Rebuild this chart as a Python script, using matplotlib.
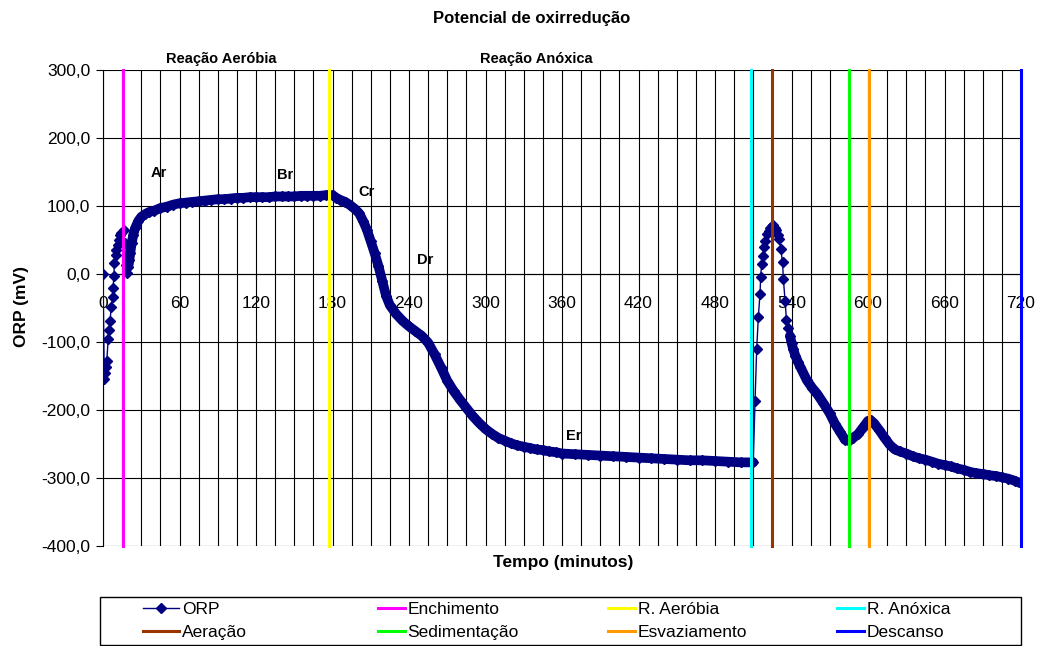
import numpy as np
import matplotlib
matplotlib.use('Agg')
import matplotlib.pyplot as plt
from matplotlib.patches import Rectangle
from matplotlib.ticker import FuncFormatter

plt.rcParams['font.family'] = ['Liberation Sans', 'DejaVu Sans']

# ORP readings: time (minutes) and potential (mV)
tempo = [0, 1, 1.5, 2.5, 3, 4, 5, 5.5, 6.5, 7.5, 8, 8.5, 9, 10, 10.5, 11.5, 12.5, 13.5, 14.5, 16.5,
         17, 17.8, 18.5, 19.9, 20.7, 21.4, 22.5, 23.8, 25.1, 27.7, 30, 33, 36, 40, 45, 50, 55, 60,
         65, 70, 75, 80, 85, 90, 95, 100, 105, 110, 115, 120, 125, 130, 135, 140, 145, 150, 155,
         160, 165, 170, 175, 180, 183, 186, 190, 194, 198, 201, 204, 207, 210, 213, 216, 219, 222,
         225, 230, 235, 240, 245, 250, 255, 260, 265, 270, 275, 280, 285, 290, 295, 300, 305, 310,
         315, 320, 325, 330, 335, 340, 345, 350, 355, 360, 370, 380, 390, 400, 410, 420, 430, 440,
         450, 460, 470, 480, 490, 500, 509, 510,
         511.4, 512.7, 514, 515.3, 515.8, 516.6, 517.4, 518.4, 519.5, 521, 522, 523, 524.5, 525.7,
         527, 528, 529.2, 530.4, 531.5, 533, 533.6, 535, 536, 537.5, 538.8, 540, 541.4, 543, 545,
         547, 552, 556, 560, 565, 570, 574, 578, 582, 585, 588, 592, 596, 600, 602, 605, 609, 613,
         617, 621, 625, 630, 635, 640, 645, 650, 655, 660, 665, 670, 675, 680, 685, 690, 695, 700,
         705, 710, 715, 720]
orp = [0, -155, -146, -137, -128, -96, -82, -69, -48, -34, -20, -3, 16, 28, 36, 43, 50, 57, 61, 64,
       45, 13, 1, 11, 21, 31, 46, 58, 67, 78, 84, 88, 91, 93, 97, 99, 102, 104,
       105, 106, 107, 108, 109, 110, 110, 111, 112, 112, 113, 113, 113, 113, 114, 114, 114, 114, 115,
       115, 115, 115, 116, 116, 112, 109, 106, 101, 95, 89, 78, 65, 48, 31, 12, -10, -32,
       -46, -59, -69, -77, -84, -91, -101, -118, -137, -157, -172, -185, -197, -209, -219, -228, -235, -241,
       -245, -249, -252, -254, -256, -258, -259, -261, -262, -264, -265, -266, -267, -268, -269, -270, -271, -272,
       -273, -274, -274, -275, -276, -277, -277, -277,
       -187, -110, -63, -29, -5, 15, 27, 40, 49, 59, 63, 67, 70, 72,
       68, 64, 58, 52, 37, 17, -7, -40, -67, -79, -91, -101, -111, -120, -129,
       -137, -156, -167, -176, -190, -205, -220, -232, -244, -245, -241, -236, -226, -216, -215, -220, -230, -241,
       -251, -258, -261, -264, -268, -271, -273, -276, -279, -281, -283, -286, -288, -291, -293, -294, -296, -297,
       -299, -301, -304, -308]

# phase boundaries
fases = ['Enchimento', 'R. Aeróbia', 'R. Anóxica', 'Aeração', 'Sedimentação', 'Esvaziamento', 'Descanso']
fase_t = [16, 177, 508, 524.5, 585, 601, 720]
fase_cor = ['#FF00FF', '#FFFF00', '#00FFFF', '#993300', '#00FF00', '#FF9900', '#0000FF']

# point labels
pontos = ['Ar', 'Br', 'Cr', 'Dr', 'Er']
pontos_t = [44, 143, 207, 253, 369]
pontos_v = [148, 146, 121, 21, -238]

fig = plt.figure(figsize=(10.45, 6.46), dpi=100)
ax = fig.add_axes([103/1045, 1 - 546/646, 918/1045, 476/646])

t = np.array(tempo, dtype=float)
v = np.array(orp, dtype=float)
navy = '#000080'

ax.plot(t, v, color=navy, lw=1, marker='D', ms=5, zorder=3, label='ORP')
# dense sampling stretches look like a thick band
denso = ((t >= 19) & (t <= 510)) | (t >= 538)
ax.plot(t, np.ma.masked_where(~denso, v), color=navy, lw=7, solid_capstyle='round', zorder=3)

for nome, x, c in zip(fases, fase_t, fase_cor):
    ax.axvline(x, color=c, lw=2.2, zorder=4, label=nome, clip_on=False)

ax.set_xlim(0, 720)
ax.set_ylim(-400, 300)
ax.set_xticks(np.arange(0, 721, 60))
ax.set_xticks(np.arange(0, 721, 15), minor=True)
ax.set_yticks(np.arange(-400, 301, 100))
ax.yaxis.set_major_formatter(FuncFormatter(lambda y, _: f'{y:.1f}'.replace('.', ',')))

ax.set_axisbelow(True)
ax.grid(True, which='both', axis='x', color='black', lw=0.8)
ax.grid(True, which='major', axis='y', color='black', lw=0.8)

ax.spines['bottom'].set_position(('data', 0))
ax.spines['top'].set_visible(False)
ax.spines['right'].set_visible(False)
ax.tick_params(axis='x', which='major', length=4, pad=12, labelsize=12.5)
ax.tick_params(axis='x', which='minor', length=0)
ax.tick_params(axis='y', length=5, pad=4, labelsize=12.5)

for nome, x, y in zip(pontos, pontos_t, pontos_v):
    ax.text(x, y, nome, ha='center', va='center', weight='bold', fontsize=10.5)
ax.text(93, 316, 'Reação Aeróbia', ha='center', va='center', weight='bold', fontsize=10.5, clip_on=False)
ax.text(340, 316, 'Reação Anóxica', ha='center', va='center', weight='bold', fontsize=10.5, clip_on=False)

fig.text(532/1045, 1 - 18/646, 'Potencial de oxirredução', ha='center', va='center', weight='bold', fontsize=12)
fig.text(563/1045, 1 - 563/646, 'Tempo (minutos)', ha='center', va='center', weight='bold', fontsize=12.5)
fig.text(22/1045, 1 - 307/646, 'ORP (mV)', ha='center', va='center', rotation=90, weight='bold', fontsize=12.5)

# legend: four equal-width columns inside one box
h, l = ax.get_legend_handles_labels()
col_x = [143, 378, 608, 837]
for i, x in enumerate(col_x):
    fig.legend([h[i], h[i + 4]], [l[i], l[i + 4]], loc='upper left',
               bbox_to_anchor=(x/1045, 1 - 602/646), frameon=False, borderpad=0,
               borderaxespad=0, handlelength=2.1 if i == 0 else 1.55, handletextpad=0.15,
               labelspacing=0.42, fontsize=12.5, numpoints=1)
fig.add_artist(Rectangle((100/1045, 1 - 645/646), 921/1045, 48/646, transform=fig.transFigure,
                         fill=False, edgecolor='black', lw=1))

fig.savefig('out.png', dpi=100)
